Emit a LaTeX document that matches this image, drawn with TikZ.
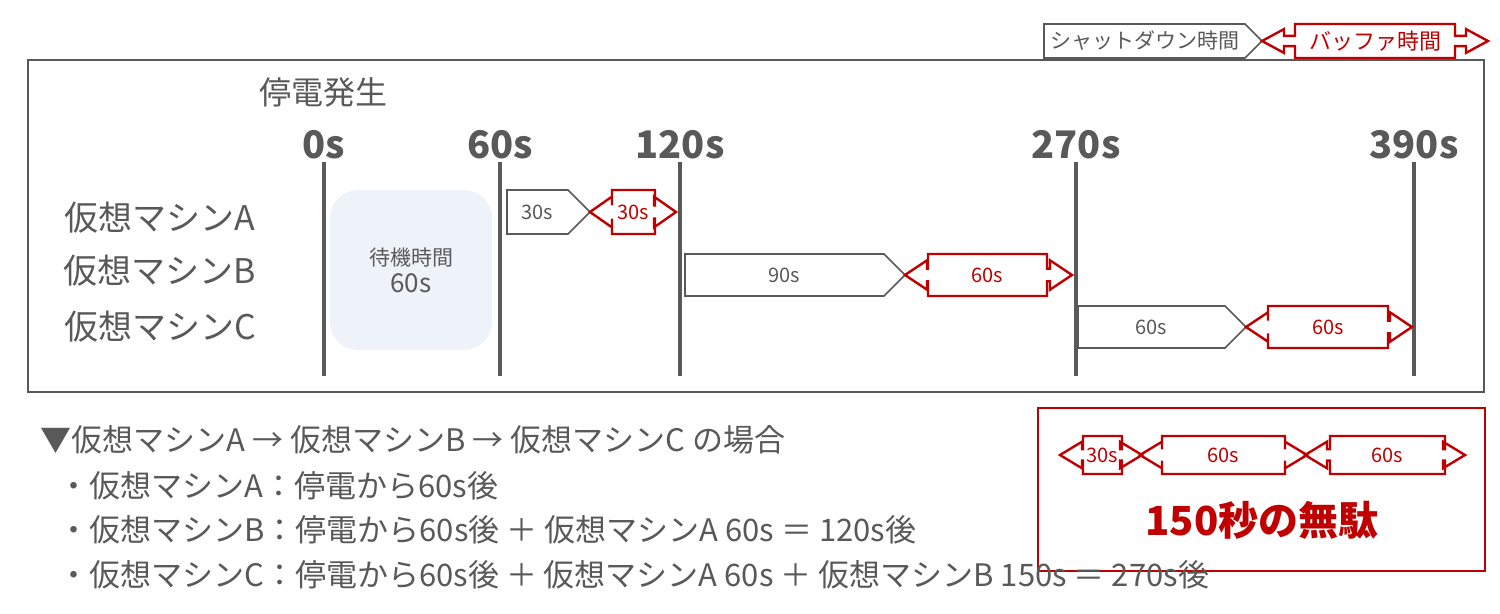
\documentclass[tikz,border=0pt]{standalone}
\usepackage{fontspec}
\setmainfont{Noto Sans CJK JP}
\definecolor{myred}{HTML}{C00000}
\definecolor{mygray}{HTML}{595959}
\definecolor{waitbg}{HTML}{EEF3FA}
\newcommand{\fs}[1]{\fontsize{#1pt}{#1pt}\selectfont}
% red double arrow: x0 xa xb x1 ytop ybot name label
\newcommand{\redarr}[8]{%
 \pgfmathsetmacro\yc{(#5+#6)/2}\pgfmathsetmacro\hh{(#6-#5)/2}%
 \pgfmathsetmacro\ha{\yc-0.7*\hh}\pgfmathsetmacro\hb{\yc+0.7*\hh}%
 \pgfmathsetmacro\sa{\yc-0.3*\hh}\pgfmathsetmacro\sb{\yc+0.3*\hh}%
 \pgfmathsetmacro\la{#1+22}\pgfmathsetmacro\ra{#4-22}%
 \draw[myred,line width=1.2pt,line join=miter] (#1,\yc) -- (\la,\ha) -- (\la,\sa) -- (#2,\sa) -- (#2,#5) -- (#3,#5) -- (#3,\sa) -- (\ra,\sa) -- (\ra,\ha) -- (#4,\yc) -- (\ra,\hb) -- (\ra,\sb) -- (#3,\sb) -- (#3,#6) -- (#2,#6) -- (#2,\sb) -- (\la,\sb) -- (\la,\hb) -- cycle;
 \node[text=myred,font=\fs{10}] (#7) at ({(#2+#3)/2},\yc) {#8};}
% gray pentagon: x0 x1(tip) ytop ybot name label
\newcommand{\grayarr}[6]{%
 \pgfmathsetmacro\yc{(#3+#4)/2}\pgfmathsetmacro\hh{(#4-#3)/2}\pgfmathsetmacro\bk{#2-\hh}%
 \draw[mygray,line width=0.8pt,fill=white] (#1,#3) -- (\bk,#3) -- (#2,\yc) -- (\bk,#4) -- (#1,#4) -- cycle;
 \node[text=mygray,font=\fs{10}] (#5) at ({(#1+\bk)/2},\yc) {#6};}
\begin{document}
\begin{tikzpicture}[x=0.5pt,y=-0.5pt,
  vline/.style={mygray,line width=2pt},
  tlab/.style={text=mygray,font=\fs{19}\bfseries},
  vmlab/.style={text=mygray,font=\fs{17}},
  btxt/.style={text=mygray,font=\fs{15.5},anchor=west,inner sep=0}]
\useasboundingbox (0,0) rectangle (1500,614);
% legend
\grayarr{1044}{1262}{24}{58}{lg}{\fs{10.5}シャットダウン時間}
\redarr{1262}{1295}{1455}{1488}{24}{58}{lr}{\fs{11}バッファ時間}
% frame
\draw[mygray,line width=1pt] (28,60) rectangle (1484,392);
\node[text=mygray,font=\fs{16}] (hd) at (323,92) {停電発生};
% wait box
\node[fill=waitbg,rounded corners=14pt,minimum width=81pt,minimum height=80pt,inner sep=0,
  align=center,text=mygray,font=\fs{10.5}] (wait) at (411,270) {待機時間\\[3pt]{\fs{13}60s}};
% time lines
\foreach \x/\t/\n in {324/0s/t0,500/60s/t1,680/120s/t2,1076/270s/t3,1414/390s/t4}{
  \node[tlab] (\n) at (\x,145) {\t};
  \coordinate (\n a) at (\x,162); \coordinate (\n b) at (\x,376);
  \draw[vline] (\n a) -- (\n b);}
% VM labels
\node[vmlab] (va) at (160,218) {仮想マシンA};
\node[vmlab] (vb) at (160,271) {仮想マシンB};
\node[vmlab] (vc) at (160,327) {仮想マシンC};
% bars
\grayarr{507}{590}{190}{234}{ga}{30s}
\redarr{590}{612}{655}{676}{190}{234}{ra}{30s}
\grayarr{685}{905}{254}{296}{gb}{90s}
\redarr{905}{928}{1047}{1072}{254}{296}{rb}{60s}
\grayarr{1078}{1246}{306}{348}{gc}{60s}
\redarr{1246}{1268}{1388}{1412}{306}{348}{rc}{60s}
% summary box
\draw[myred,line width=1.2pt] (1038,408) rectangle (1485,571);
\redarr{1060}{1083}{1122}{1142}{436}{474}{s1}{30s}
\redarr{1140}{1162}{1285}{1307}{436}{474}{s2}{60s}
\redarr{1305}{1330}{1445}{1465}{436}{474}{s3}{60s}
\node[text=myred,font=\fs{20}\bfseries] (waste) at (1262,520) {150秒の無駄};
% bottom text
\node[btxt] (l1) at (40,440) {▼仮想マシンA → 仮想マシンB → 仮想マシンC の場合};
\node[btxt] (l2) at (58,486) {・仮想マシンA：停電から60s後};
\node[btxt] (l3) at (58,530) {・仮想マシンB：停電から60s後 ＋ 仮想マシンA 60s ＝ 120s後};
\node[btxt] (l4) at (58,575) {・仮想マシンC：停電から60s後 ＋ 仮想マシンA 60s ＋ 仮想マシンB 150s ＝ 270s後};
\end{tikzpicture}
\end{document}
